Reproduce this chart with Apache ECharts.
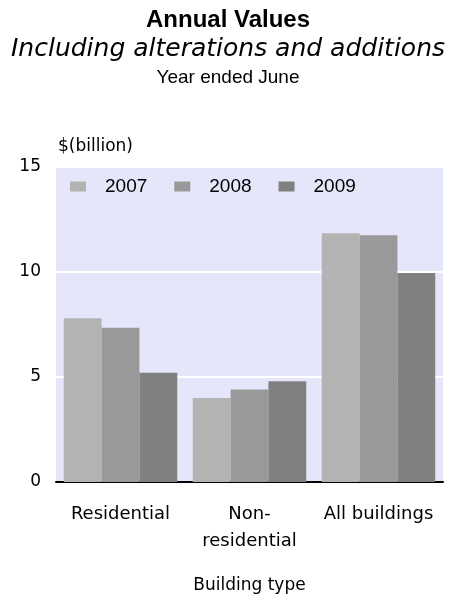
<!DOCTYPE html>
<html><head><meta charset="utf-8">
<script src="https://cdn.jsdelivr.net/npm/echarts@6/dist/echarts.min.js"></script>
<style>html,body{margin:0;padding:0;background:#fff}#c{width:456px;height:596px}</style>
</head><body><div id="c"></div>
<script>
const categories = ['Residential', 'Non-\nresidential', 'All buildings'];
const seriesNames = ['2007', '2008', '2009'];
const v2007 = [7.8, 4.0, 11.85];
const v2008 = [7.35, 4.4, 11.75];
const v2009 = [5.2, 4.8, 9.95];
const colors = ['#b3b3b3', '#999999', '#808080'];
const values = [v2007, v2008, v2009];

const chart = echarts.init(document.getElementById('c'));
chart.setOption({
  animation: false,
  title: [
    {text: 'Annual Values', left: 'center', top: 3, textStyle: {fontFamily: 'Liberation Sans', fontWeight: 'bold', fontSize: 24, color: '#000'}},
    {text: 'Including alterations and additions', left: 'center', top: 32, textStyle: {fontFamily: 'DejaVu Sans', fontStyle: 'italic', fontWeight: 'normal', fontSize: 25, color: '#000'}},
    {text: 'Year ended June', left: 'center', top: 63, textStyle: {fontFamily: 'Liberation Sans', fontWeight: 'normal', fontSize: 19, color: '#000'}}
  ],
  grid: {left: 56, right: 13, top: 167, bottom: 114, show: true, backgroundColor: '#e6e6fa', borderWidth: 0, containLabel: false, outerBoundsMode: 'none'},
  legend: {
    data: seriesNames, left: 65, top: 172, itemWidth: 16, itemHeight: 10, itemGap: 27,
    icon: 'rect',
    textStyle: {fontFamily: 'Liberation Sans', fontSize: 19, color: '#000', padding: [0, 0, 0, 14]}
  },
  xAxis: {
    type: 'category', data: categories,
    name: 'Building type', nameLocation: 'middle', nameGap: 95,
    nameTextStyle: {fontFamily: 'DejaVu Sans', fontSize: 17, color: '#000'},
    axisLine: {lineStyle: {color: '#000', width: 2}},
    axisTick: {show: false},
    axisLabel: {fontFamily: 'DejaVu Sans', fontSize: 18, color: '#000', margin: 19, lineHeight: 27, interval: 0}
  },
  yAxis: {
    type: 'value', min: 0, max: 15, interval: 5,
    name: '$(billion)', nameLocation: 'end', nameGap: 12,
    nameTextStyle: {fontFamily: 'DejaVu Sans', fontSize: 17, color: '#000', align: 'left', padding: [0, 0, 0, 2]},
    axisLine: {show: false}, axisTick: {show: false},
    axisLabel: {fontFamily: 'DejaVu Sans', fontSize: 17, color: '#000', margin: 15, padding: [0, 0, 10, 0]},
    splitLine: {lineStyle: {color: '#ffffff', width: 2}}
  },
  series: seriesNames.map((n, i) => ({
    name: n, type: 'bar', data: values[i], barGap: '0%', barCategoryGap: '12%',
    itemStyle: {color: colors[i]}
  }))
});
</script></body></html>
